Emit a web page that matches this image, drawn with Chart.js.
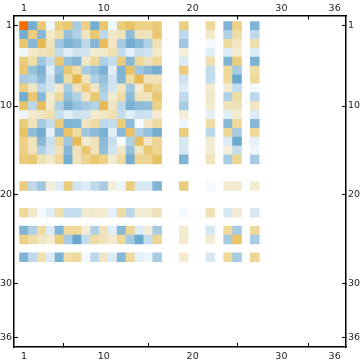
<!DOCTYPE html>
<html>
<head>
<meta charset="utf-8">
<script src="https://cdn.jsdelivr.net/npm/chart.js@4"></script>
<style>
    html, body { margin: 0; padding: 0; background: #ffffff; }
    canvas { display: block; }
</style>
</head>
<body>
<canvas id="matrixPlot" width="360" height="363"></canvas>
<script>
// rows/columns of the 36x36 matrix that hold something, the rest stay blank
var activeIndices = [1, 2, 3, 4, 5, 6, 7, 8, 9, 10, 11, 12, 13, 14, 15, 16, 19, 22, 24, 25, 27];
var tickValues = [1, 10, 20, 30, 36];

// upper triangle, the plot is symmetric. each row starts on the diagonal
var upperRows = [
    [1, -.38, .3, -.03, .27, .3, -.2, .26, -.38, .32, -.03, .27, .33, .25, .25, .28, .27, .2, -.33, .25, -.33],
    [.27, -.3, .08, .17, -.25, -.18, .1, .3, -.15, .08, .12, -.28, .12, .12, .3, -.15, .08, -.18, .17, -.15],
    [.37, .12, -.22, -.35, -.28, -.15, -.3, .36, .1, -.2, -.38, -.3, -.18, .13, -.22, -.02, .18, .1, .15],
    [.15, -.13, -.06, -.1, -.1, .07, .08, .15, -.13, -.05, -.12, -.1, .08, .05, -.06, -.07, .07, -.07],
    [.3, -.25, -.32, .08, .2, -.18, -.13, .28, -.3, .2, .12, .2, -.07, .15, -.33, .27, -.35],
    [.3, .17, -.2, -.25, -.35, -.06, -.33, .33, -.22, -.3, -.37, .27, -.13, .2, -.2, .17],
    [.4, .12, -.18, -.25, -.1, -.32, .18, .37, .12, .12, -.1, -.13, .2, -.42, .2],
    [.28, .1, -.2, -.1, .1, -.22, .07, .3, .22, -.07, .07, .06, -.13, -.02],
    [.3, -.17, .07, .18, -.28, .12, .12, .3, -.14, .08, -.18, .18, -.15],
    [.37, .1, -.15, -.35, -.28, -.27, .25, -.2, .07, .12, .12, .1],
    [.15, -.13, -.06, -.12, -.1, .07, .05, -.05, -.06, .07, -.07],
    [.28, -.29, -.01, .1, .18, -.03, .17, -.3, .2, -.3],
    [.33, -.18, -.25, -.37, .27, -.15, .22, -.2, .2],
    [.35, .1, .22, -.08, .06, -.07, -.4, -.05],
    [.3, .22, -.08, .06, .05, -.13, -.03],
    [.33, -.33, .12, -.2, .22, -.2],
    [.27, -.02, .07, .07, .07],
    [.13, -.08, .06, -.08],
    [.2, -.2, .2],
    [.32, -.2],
    [.22]
];

// value -> colour stops
var colorStops = [
    [-.42, [104, 167, 206]],
    [-.3, [136, 184, 214]],
    [-.22, [159, 199, 223]],
    [-.15, [188, 216, 234]],
    [-.08, [216, 232, 243]],
    [-.03, [237, 246, 251]],
    [0, [255, 255, 255]],
    [.05, [243, 238, 216]],
    [.1, [241, 230, 195]],
    [.2, [238, 217, 155]],
    [.3, [234, 200, 113]],
    [.4, [230, 180, 74]],
    [1, [245, 108, 0]]
];

function cellColor(value) {
    for (var i = 1; i < colorStops.length; i++) {
        if (value <= colorStops[i][0]) {
            var a = colorStops[i - 1], b = colorStops[i];
            var t = (value - a[0]) / (b[0] - a[0]);
            var rgb = a[1].map(function(c, k) { return Math.round(c + (b[1][k] - c) * t); });
            return 'rgb(' + rgb.join(',') + ')';
        }
    }
    return 'rgb(245,108,0)';
}

var cells = [];
upperRows.forEach(function(row, r) {
    row.forEach(function(value, k) {
        var c = r + k;
        cells.push({ x: activeIndices[c], y: [activeIndices[r] - 0.5, activeIndices[r] + 0.5], v: value });
        if (c !== r) {
            cells.push({ x: activeIndices[r], y: [activeIndices[c] - 0.5, activeIndices[c] + 0.5], v: value });
        }
    });
});

function frameAxis(position, min, max, reverse, thickness, labelPadding) {
    return {
        type: 'linear',
        position: position,
        min: min,
        max: max,
        reverse: reverse,
        offset: false,
        border: { display: true, color: '#000000', width: 1.5 },
        grid: { drawOnChartArea: false, drawTicks: true, tickLength: -4, tickColor: '#000000', tickWidth: 1 },
        ticks: {
            color: '#1c1c1c',
            padding: labelPadding,
            autoSkip: false,
            maxRotation: 0,
            font: { family: "'DejaVu Sans', sans-serif", size: 9.5 }
        },
        afterBuildTicks: function(axis) {
            axis.ticks = tickValues.map(function(v) { return { value: v }; });
        },
        afterFit: function(axis) {
            if (position === 'top' || position === 'bottom') axis.height = thickness;
            else axis.width = thickness;
        }
    };
}

var xMin = -0.125, xMax = 37.28, yMin = -0.18, yMax = 37.1;

new Chart(document.getElementById('matrixPlot').getContext('2d'), {
    type: 'bar',
    data: {
        datasets: [{
            data: cells,
            barPercentage: 1,
            categoryPercentage: 1,
            borderWidth: 0,
            backgroundColor: function(ctx) {
                return ctx.raw ? cellColor(ctx.raw.v) : '#ffffff';
            }
        }]
    },
    options: {
        responsive: false,
        animation: false,
        layout: { padding: 0 },
        plugins: { legend: { display: false }, tooltip: { enabled: false } },
        scales: {
            x: frameAxis('bottom', xMin, xMax, false, 16, 7.5),
            x2: Object.assign(frameAxis('top', xMin, xMax, false, 15.5, 5), { axis: 'x' }),
            y: frameAxis('left', yMin, yMax, true, 14, 6),
            y2: Object.assign(frameAxis('right', yMin, yMax, true, 14, 6), { axis: 'y' })
        }
    }
});
</script>
</body>
</html>
